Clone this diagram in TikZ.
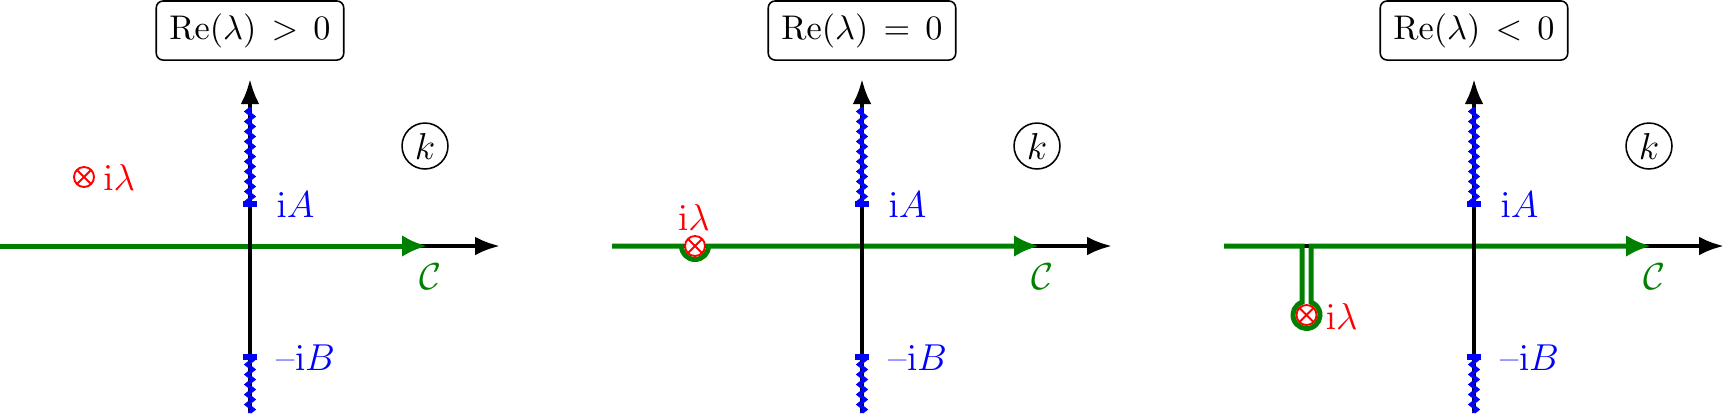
\documentclass[tikz,border=0pt]{standalone}
\usepackage{amsmath,amssymb,bm}
\usetikzlibrary{arrows.meta,decorations.pathmorphing}
\definecolor{cgreen}{RGB}{0,128,0}
\tikzset{
 axisline/.style={line width=1.25pt, -{Latex[length=8pt,width=6pt]}},
 contour/.style={cgreen, line width=1.6pt, -{Latex[length=8pt,width=7pt]}},
 cutline/.style={blue, line width=1.2pt, decorate, decoration={zigzag, amplitude=1pt, segment length=3.2pt}},
 bpoint/.style={fill=blue, inner sep=0pt, minimum width=4.5pt, minimum height=2.2pt},
 pole/.style={circle, draw=red, fill=white, minimum size=6.4pt, inner sep=0pt, line width=0.6pt,
   path picture={\draw[red, line width=0.6pt] (path picture bounding box.north west) -- (path picture bounding box.south east)
     (path picture bounding box.north east) -- (path picture bounding box.south west);}},
 titlebox/.style={draw, rounded corners=2.2pt, line width=0.5pt, minimum width=60pt, minimum height=18.9pt, font=\fontsize{11}{13}\selectfont},
 kbox/.style={circle, draw, line width=0.5pt, minimum size=14.7pt, inner sep=0pt, font=\large},
 bluelbl/.style={text=blue, anchor=west, inner sep=0pt, font=\large},
 redlbl/.style={text=red, font=\large},
 greenlbl/.style={text=cgreen, font=\large},
}
\newcommand\planeback[1]{%
  \coordinate (w#1) at (-250,0);
  \coordinate (e#1) at (250,0);
  \coordinate (s#1) at (0,-167);
  \coordinate (n#1) at (0,167);
  \coordinate (g#1) at (177,0);
  \draw[axisline] (w#1) -- (e#1);
}
\newcommand\planefront[2]{%
  \draw[axisline] (s#1) -- (n#1);
  \coordinate (ta#1) at (0,42);
  \coordinate (tb#1) at (0,-111);
  \coordinate (ca#1) at (0,139);
  \draw[cutline] (ta#1) -- (ca#1);
  \draw[cutline] (tb#1) -- (s#1);
  \node[bpoint] (a#1) at (ta#1) {};
  \node[bpoint] (b#1) at (tb#1) {};
  \node[bluelbl] (la#1) at (26,41) {$\mathrm{i}A$};
  \node[bluelbl] (lb#1) at (26,-112) {--$\mathrm{i}B$};
  \node[greenlbl] (C#1) at (180,-31) {$\mathcal{C}$};
  \node[kbox] (k#1) at (175,100) {$k$};
  \node[titlebox] (t#1) at (0,215.5) {$\mathrm{Re}(\lambda)\,#2\,0$};
}
\begin{document}
\begin{tikzpicture}[x=0.32pt, y=0.32pt]
\useasboundingbox (0,0) rectangle (1725,-413);
% panel 1
\begin{scope}[shift={(250,-246)}]
  \planeback{1}
  \draw[contour] (w1) -- (g1);
  \planefront{1}{>}
  \node[pole] (p1) at (-166,69) {};
  \node[redlbl, anchor=west, inner sep=2.5pt] (lp1) at (p1.east) {$\mathrm{i}\lambda$};
\end{scope}
% panel 2
\begin{scope}[shift={(862,-246)}]
  \planeback{2}
  \coordinate (c2) at (-167,0);
  \coordinate (c2l) at (-180.5,0);
  \draw[contour] (w2) -- (c2l) arc[start angle=180, end angle=360, radius=4.32pt] -- (g2);
  \planefront{2}{=}
  \node[pole] (p2) at (c2) {};
  \node[redlbl] (lp2) at (-168,29) {$\mathrm{i}\lambda$};
\end{scope}
% panel 3
\begin{scope}[shift={(1474,-246)}]
  \planeback{3}
  \coordinate (c3) at (-167.5,-69);
  \coordinate (k3a) at (-172,0);
  \coordinate (k3b) at (-172,-56.27);
  \coordinate (k3c) at (-163,0);
  \draw[contour] (w3) -- (k3a) -- (k3b) arc[start angle=109.5, end angle=430.5, radius=4.32pt] -- (k3c) -- (g3);
  \planefront{3}{<}
  \node[pole] (p3) at (c3) {};
  \node[redlbl, anchor=west, inner sep=2.5pt] (lp3) at ([yshift=-0.6pt]p3.east) {$\mathrm{i}\lambda$};
\end{scope}
\end{tikzpicture}
\end{document}
